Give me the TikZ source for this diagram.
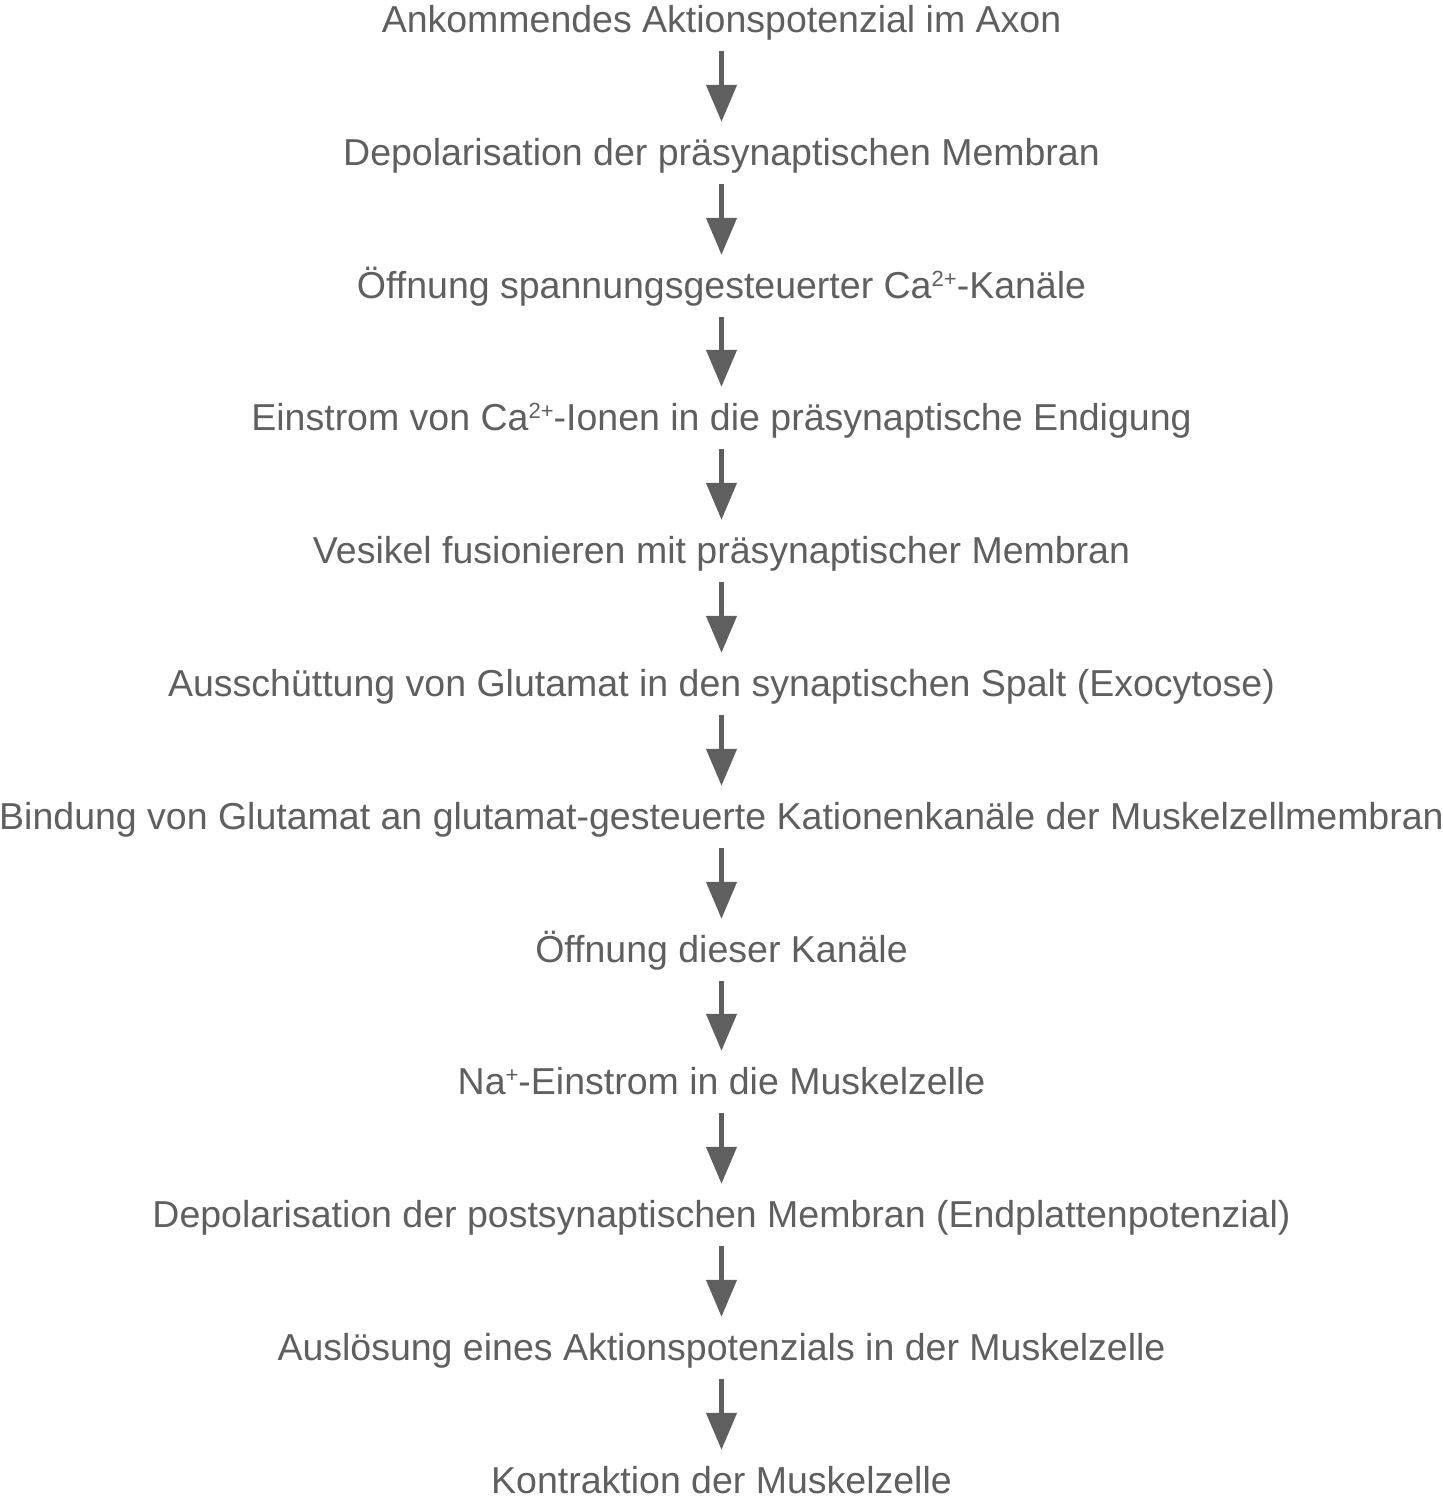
\documentclass[tikz,border=0pt]{standalone}
\usepackage{fontspec}
\setmainfont{Liberation Sans}
\usetikzlibrary{arrows.meta}
\definecolor{flowgray}{HTML}{5F5F5F}
\newcommand\ionsup[1]{\raisebox{5.6pt}{\fontsize{11}{11}\selectfont #1}}
\begin{document}
\begin{tikzpicture}[x=0.5pt,y=-0.5pt,>={Triangle[width=15pt,length=18.5pt]},color=flowgray,line width=2.2pt]
\tikzset{StepStyle/.style = {inner sep=0pt, anchor=base, text height=20.5pt, text depth=8.5pt, font=\fontsize{18.75}{22}\selectfont}}
\useasboundingbox (0,0) rectangle (1443,1510);
\node[StepStyle](1) at (721.5,32) {Ankommendes Aktionspotenzial im Axon};
\node[StepStyle](2) at (721.5,165) {Depolarisation der präsynaptischen Membran};
\node[StepStyle](3) at (721.5,298) {Öffnung spannungsgesteuerter Ca\ionsup{2+}-Kanäle};
\node[StepStyle](4) at (721.5,430) {Einstrom von Ca\ionsup{2+}-Ionen in die präsynaptische Endigung};
\node[StepStyle](5) at (721.5,563) {Vesikel fusionieren mit präsynaptischer Membran};
\node[StepStyle](6) at (721.5,696) {Ausschüttung von Glutamat in den synaptischen Spalt (Exocytose)};
\node[StepStyle](7) at (721.5,829) {Bindung von Glutamat an glutamat-gesteuerte Kationenkanäle der Muskelzellmembran};
\node[StepStyle](8) at (721.5,962) {Öffnung dieser Kanäle};
\node[StepStyle](9) at (721.5,1094) {Na\ionsup{+}-Einstrom in die Muskelzelle};
\node[StepStyle](10) at (721.5,1227) {Depolarisation der postsynaptischen Membran (Endplattenpotenzial)};
\node[StepStyle](11) at (721.5,1360) {Auslösung eines Aktionspotenzials in der Muskelzelle};
\node[StepStyle](12) at (721.5,1493) {Kontraktion der Muskelzelle};
\draw[->] (1) -> (2);
\draw[->] (2) -> (3);
\draw[->] (3) -> (4);
\draw[->] (4) -> (5);
\draw[->] (5) -> (6);
\draw[->] (6) -> (7);
\draw[->] (7) -> (8);
\draw[->] (8) -> (9);
\draw[->] (9) -> (10);
\draw[->] (10) -> (11);
\draw[->] (11) -> (12);
\end{tikzpicture}
\end{document}
